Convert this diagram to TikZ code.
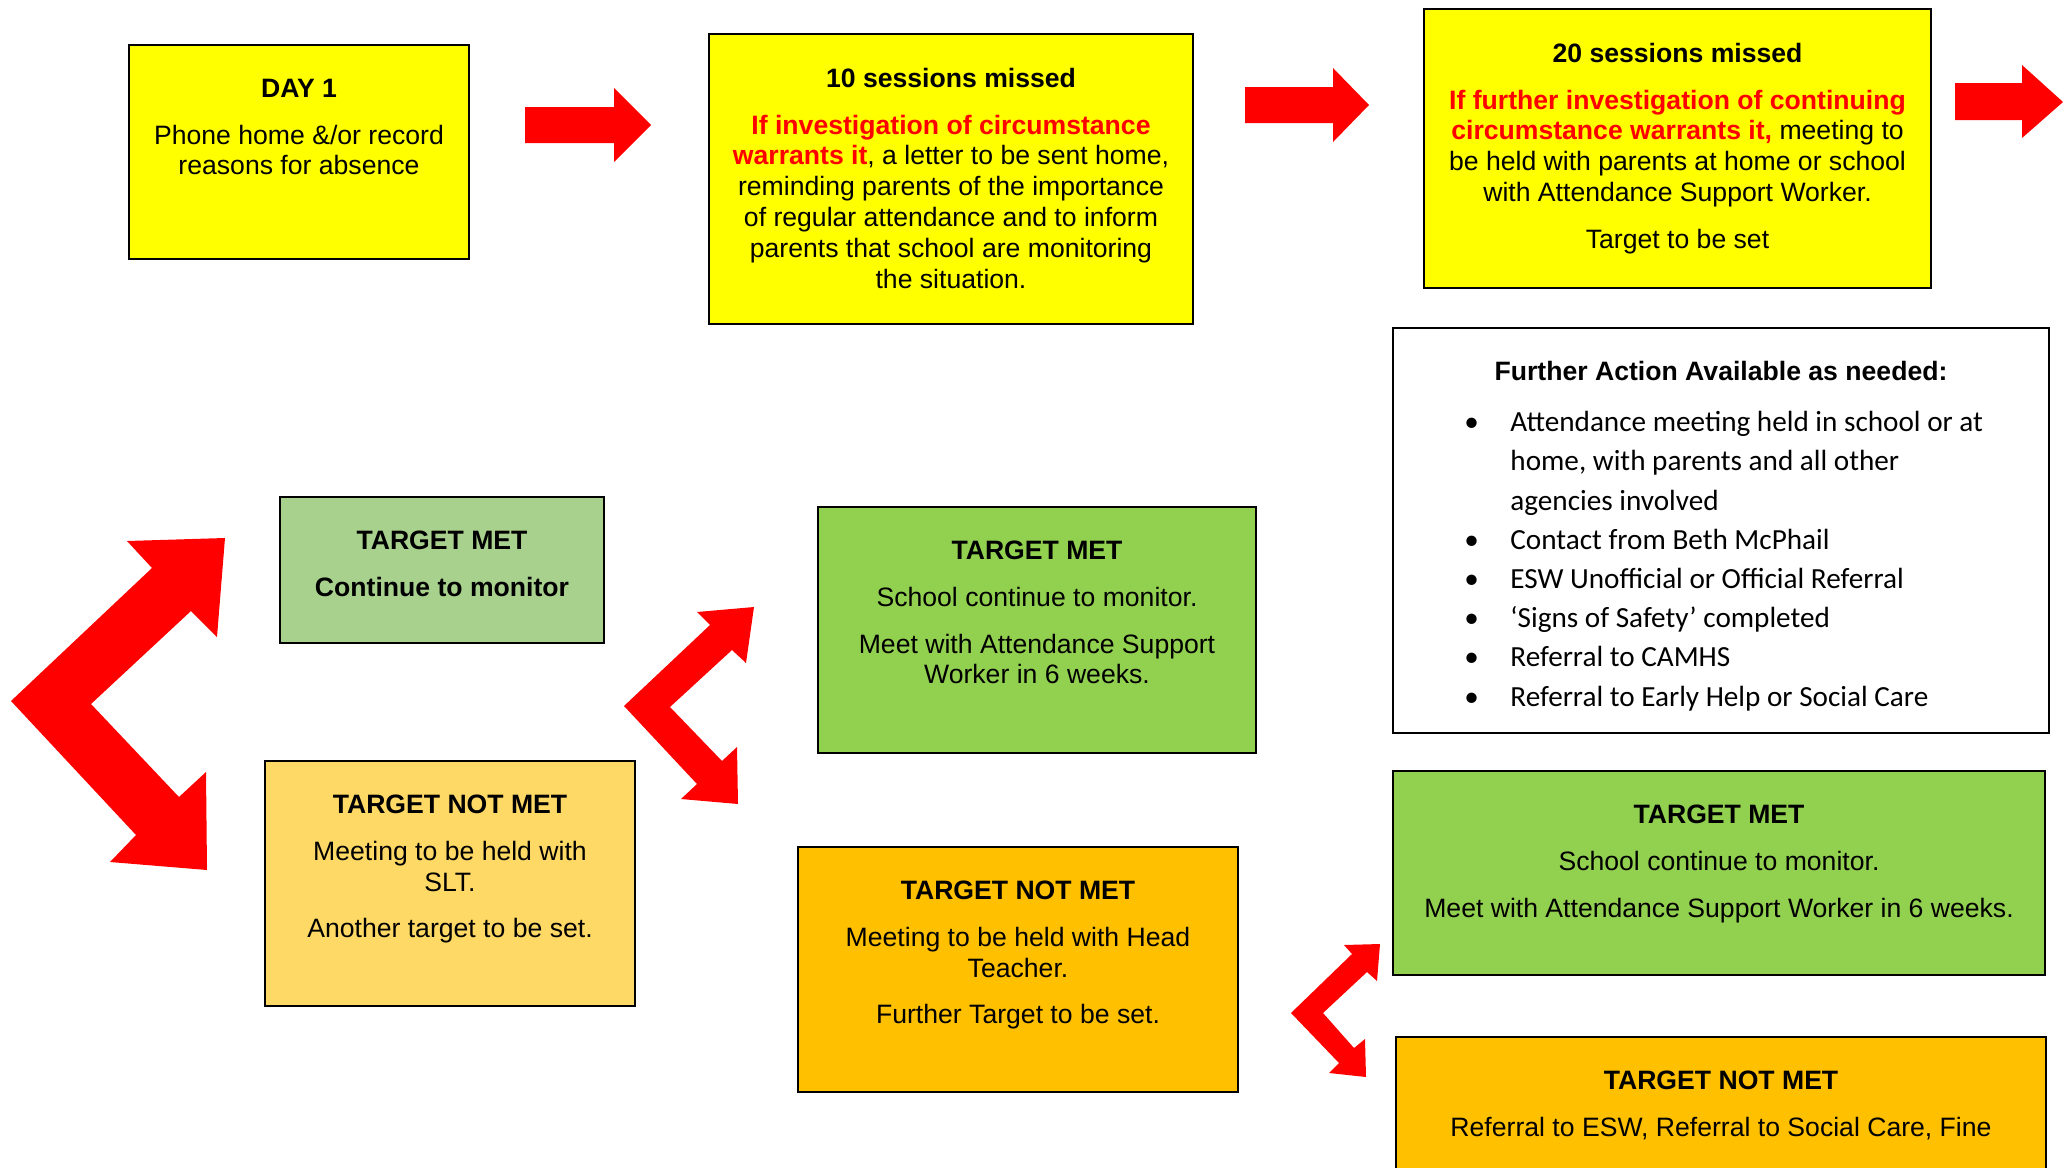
\documentclass[tikz,border=0pt]{standalone}
\usepackage{fontspec}
\setmainfont{Liberation Sans}
\newfontfamily\calibri{Carlito}
\usetikzlibrary{fit}
\definecolor{boxyellow}{HTML}{FFFF00}
\definecolor{palegreen}{HTML}{A9D18E}
\definecolor{limegreen}{HTML}{92D050}
\definecolor{paleorange}{HTML}{FFD966}
\definecolor{amber}{HTML}{FFC000}
\definecolor{arrowred}{HTML}{FF0000}
\newcommand{\warn}[1]{\textcolor{arrowred}{\textbf{#1}}}
\newcommand{\bul}{\makebox[23pt][l]{\textbullet}}
\newcommand{\ind}{\hspace*{23pt}}

\begin{document}
\begin{tikzpicture}[x=0.5pt,y=-0.5pt]
	\tikzstyle{stage}=[draw=black,line width=1pt,inner sep=0pt]
	\tikzstyle{words}=[anchor=north,inner sep=0pt,align=center,font=\fontsize{13.3}{15.4}\selectfont]
	\tikzstyle{bigarrow}=[fill=arrowred]
	\useasboundingbox (0,0) rectangle (2071,1167);
	\clip (0,0) rectangle (2071,1167);

	% top row
	\node[stage,fill=boxyellow,fit={(129,45) (469,259)}] (day1) {};
	\node[stage,fill=boxyellow,fit={(709,34) (1193,324)}] (s10) {};
	\node[stage,fill=boxyellow,fit={(1424,9) (1931,288)}] (s20) {};
	\node[words] (day1-t) at ([yshift=-17.3pt]day1.north) {\textbf{DAY 1}\\[8pt]
		Phone home \&/or record\\ reasons for absence};
	\node[words] (s10-t) at ([yshift=-17.3pt]s10.north) {\textbf{10 sessions missed}\\[8pt]
		\warn{If investigation of circumstance}\\
		\warn{warrants it}, a letter to be sent home,\\
		reminding parents of the importance\\
		of regular attendance and to inform\\
		parents that school are monitoring\\
		the situation.};
	\node[words] (s20-t) at ([yshift=-17.3pt]s20.north) {\textbf{20 sessions missed}\\[8pt]
		\warn{If further investigation of continuing}\\
		\warn{circumstance warrants it,} meeting to\\
		be held with parents at home or school\\
		with Attendance Support Worker.\\[8pt]
		Target to be set};

	% further action
	\node[stage,fit={(1393,328) (2049,733)}] (more) {};
	\node[words] (more-t) at ([yshift=-17pt]more.north) {\textbf{Further Action Available as needed:}};
	\node[anchor=north west,inner sep=0pt,align=left,font=\calibri\fontsize{14.6}{19.6}\selectfont] (more-l) at (1464,411) {%
		\bul Attendance meeting held in school or at\\
		\ind home, with parents and all other\\
		\ind agencies involved\\
		\bul Contact from Beth McPhail\\
		\bul ESW Unofficial or Official Referral\\
		\bul ‘Signs of Safety’ completed\\
		\bul Referral to CAMHS\\
		\bul Referral to Early Help or Social Care};

	% outcomes
	\node[stage,fill=palegreen,fit={(280,497) (604,643)}] (met1) {};
	\node[stage,fill=paleorange,fit={(265,761) (635,1006)}] (notmet1) {};
	\node[stage,fill=limegreen,fit={(818,507) (1256,753)}] (met2) {};
	\node[stage,fill=amber,fit={(798,847) (1238,1092)}] (notmet2) {};
	\node[stage,fill=limegreen,fit={(1393,771) (2045,975)}] (met3) {};
	\node[stage,fill=amber,fit={(1396,1037) (2046,1190)}] (notmet3) {};
	\node[words] (met1-t) at ([yshift=-17.3pt]met1.north) {\textbf{TARGET MET}\\[8pt]
		\textbf{Continue to monitor}};
	\node[words] (notmet1-t) at ([yshift=-17.3pt]notmet1.north) {\textbf{TARGET NOT MET}\\[8pt]
		Meeting to be held with\\ SLT.\\[8pt] Another target to be set.};
	\node[words] (met2-t) at ([yshift=-17.3pt]met2.north) {\textbf{TARGET MET}\\[8pt]
		School continue to monitor.\\[8pt] Meet with Attendance Support\\ Worker in 6 weeks.};
	\node[words] (notmet2-t) at ([yshift=-17.3pt]notmet2.north) {\textbf{TARGET NOT MET}\\[8pt]
		Meeting to be held with Head\\ Teacher.\\[8pt] Further Target to be set.};
	\node[words] (met3-t) at ([yshift=-17.3pt]met3.north) {\textbf{TARGET MET}\\[8pt]
		School continue to monitor.\\[8pt] Meet with Attendance Support Worker in 6 weeks.};
	\node[words] (notmet3-t) at ([yshift=-17.3pt]notmet3.north) {\textbf{TARGET NOT MET}\\[8pt]
		Referral to ESW, Referral to Social Care, Fine};

	% red arrows
	\fill[bigarrow] (525,107) -- (614,107) -- (614,88) -- (651,125) -- (614,162) -- (614,143) -- (525,143) -- cycle;
	\fill[bigarrow] (1245,87) -- (1333,87) -- (1333,68) -- (1369,105) -- (1333,142) -- (1333,123) -- (1245,123) -- cycle;
	\fill[bigarrow] (1955,83) -- (2022,83) -- (2022,65) -- (2063,102) -- (2022,138) -- (2022,120) -- (1955,120) -- cycle;
	\fill[bigarrow] (11,701) -- (152,568) -- (127,541) -- (225,538) -- (217,637) -- (191,611) -- (91,704)
		-- (179,797) -- (206,772) -- (207,870) -- (110,862) -- (136,835) -- cycle;
	\fill[bigarrow] (624,706) -- (710,625) -- (697,612) -- (754,607) -- (746,663) -- (732,650) -- (670,707)
		-- (722,761) -- (737,747) -- (738,804) -- (681,799) -- (697,784) -- cycle;
	\fill[bigarrow] (1291,1013) -- (1352,954) -- (1344,945) -- (1380,944) -- (1377,981) -- (1367,972) -- (1323,1013)
		-- (1354,1048) -- (1365,1039) -- (1366,1077) -- (1329,1073) -- (1339,1063) -- cycle;
\end{tikzpicture}
\end{document}
